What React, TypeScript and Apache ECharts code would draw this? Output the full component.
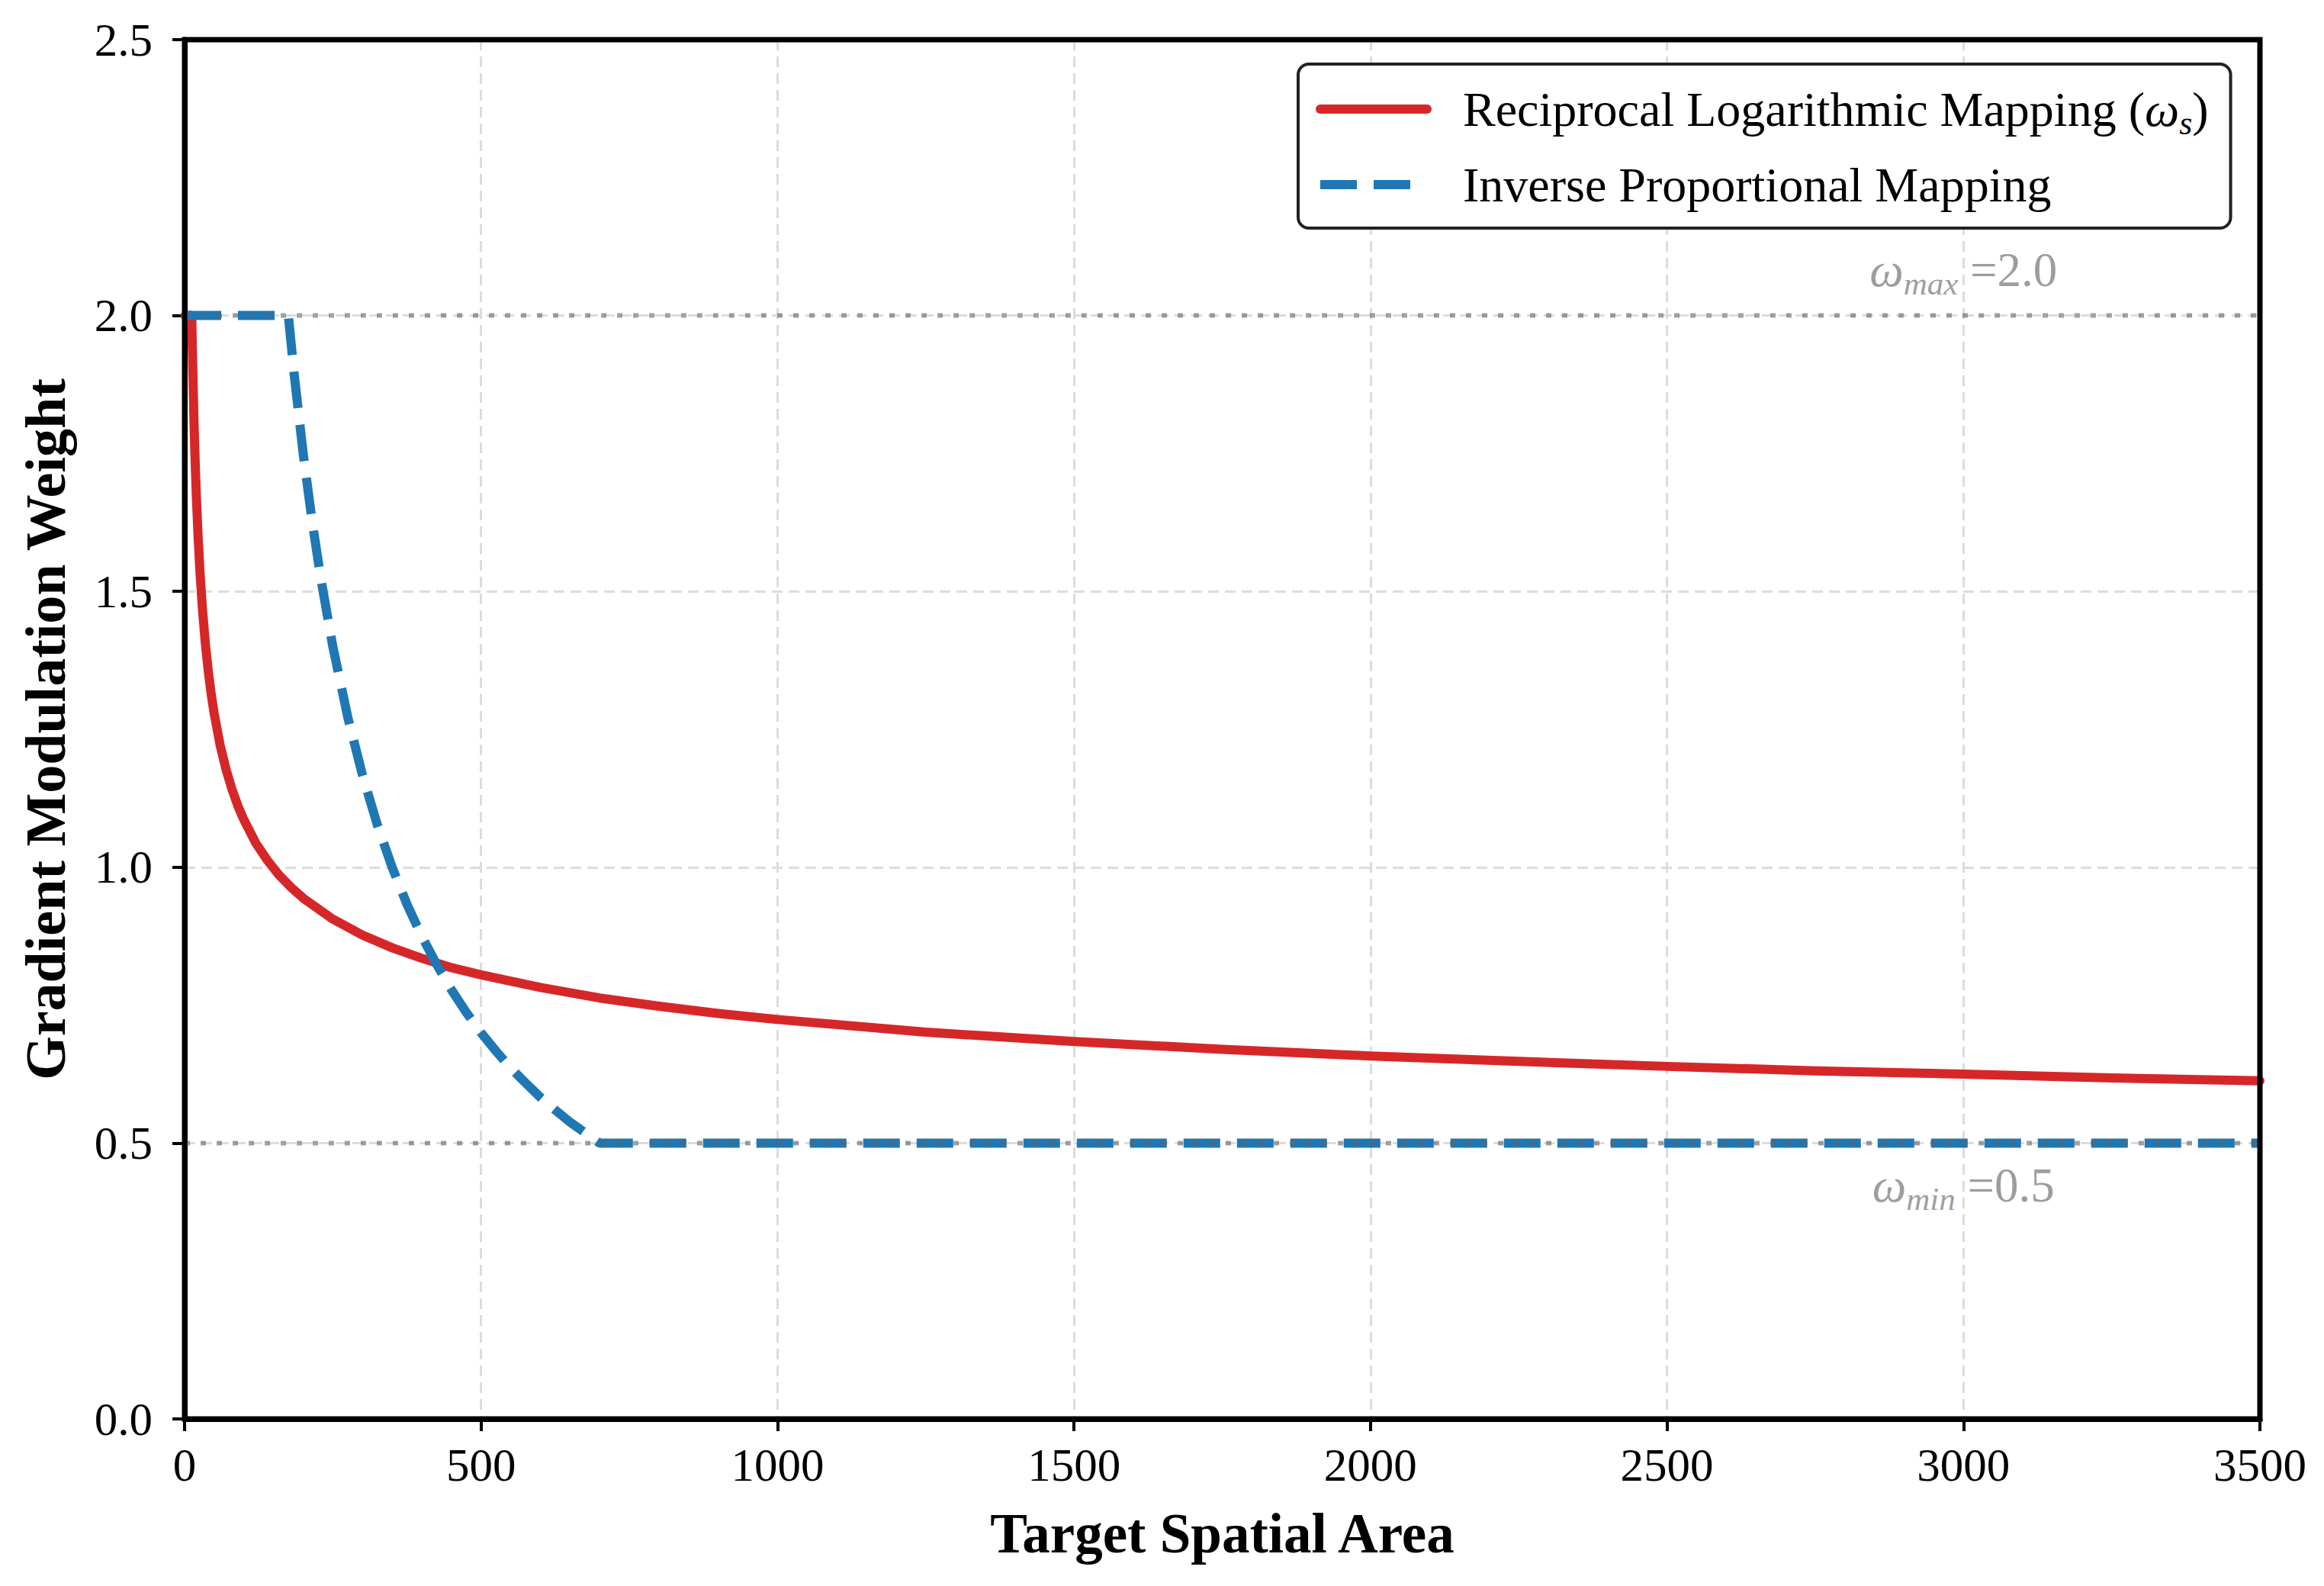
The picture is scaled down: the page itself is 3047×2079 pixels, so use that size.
import React, { useEffect, useRef } from "react";
import * as echarts from "echarts";

// ---------- data ----------
const xTicks = [0, 500, 1000, 1500, 2000, 2500, 3000, 3500];
const yTicks = [0, 0.5, 1.0, 1.5, 2.0, 2.5];

const seriesNames = ["Reciprocal Logarithmic Mapping (ωs)", "Inverse Proportional Mapping"];

// Reciprocal logarithmic mapping (red, solid)
const logX = [1, 12, 14, 16, 18, 20, 23, 26, 30, 35, 40, 45, 50, 60, 70, 80, 90, 100, 120, 140, 160, 180, 200, 250, 300, 350, 400, 450, 500, 600, 700, 800, 900, 1000, 1250, 1500, 1750, 2000, 2250, 2500, 2750, 3000, 3250, 3500];
const logY = [2.0, 2.0, 1.895, 1.803, 1.73, 1.669, 1.595, 1.535, 1.47, 1.406, 1.355, 1.313, 1.278, 1.221, 1.177, 1.141, 1.111, 1.086, 1.044, 1.012, 0.985, 0.963, 0.944, 0.906, 0.877, 0.854, 0.835, 0.818, 0.805, 0.782, 0.763, 0.748, 0.735, 0.724, 0.701, 0.684, 0.67, 0.658, 0.648, 0.639, 0.631, 0.625, 0.618, 0.613];

// Inverse proportional mapping (blue, dashed)
const invX = [0, 175, 185, 200, 215, 230, 250, 275, 300, 325, 350, 375, 400, 425, 450, 475, 500, 525, 550, 575, 600, 625, 650, 675, 700, 3500];
const invY = [2.0, 2.0, 1.892, 1.75, 1.628, 1.522, 1.4, 1.273, 1.167, 1.077, 1.0, 0.933, 0.875, 0.824, 0.778, 0.737, 0.7, 0.667, 0.636, 0.609, 0.583, 0.56, 0.538, 0.519, 0.5, 0.5];

// Reference bounds
const wMax = 2.0;
const wMin = 0.5;
const refLabelX = 3000;

// ---------- styling ----------
const FONT = "'Liberation Serif', 'Times New Roman', serif";
const GRAY = "#858585";

export default function App() {
  const ref = useRef<HTMLDivElement>(null);

  useEffect(() => {
    if (!ref.current) return;
    const chart = echarts.init(ref.current, null, { renderer: "svg" });

    const refRich = {
      w: { fontFamily: FONT, fontSize: 63, fontStyle: "italic", color: GRAY, lineHeight: 78 },
      s: { fontFamily: FONT, fontSize: 43, fontStyle: "italic", color: GRAY, lineHeight: 78, verticalAlign: "bottom" },
      e: { fontFamily: FONT, fontSize: 63, color: GRAY, lineHeight: 78 },
    };

    const option: any = {
      animation: false,
      backgroundColor: "#ffffff",
      grid: {
        left: 242,
        right: 84,
        top: 52,
        bottom: 219,
        show: true,
        borderColor: "#000",
        borderWidth: 7,
        backgroundColor: "transparent",
        z: 10,
      },
      legend: {
        data: seriesNames,
        orient: "vertical",
        left: 1702,
        top: 84,
        padding: [27, 29, 25, 23],
        itemWidth: 140,
        itemHeight: 70,
        itemGap: 27,
        backgroundColor: "#fff",
        borderColor: "#222",
        borderWidth: 4,
        borderRadius: 14,
        selectedMode: false,
        lineStyle: { width: 12 },
        itemStyle: { opacity: 0, borderWidth: 0, color: "rgba(0,0,0,0)" },
        formatter: (name: string) =>
          name === seriesNames[0]
            ? "{t|Reciprocal Logarithmic Mapping (}{w|ω}{s|s}{t|)}"
            : "{t|Inverse Proportional Mapping}",
        textStyle: {
          fontFamily: FONT,
          fontSize: 64,
          color: "#000",
          padding: [0, 0, 0, 42],
          rich: {
            t: { fontFamily: FONT, fontSize: 64, color: "#000", lineHeight: 80 },
            w: { fontFamily: FONT, fontSize: 64, fontStyle: "italic", color: "#000", lineHeight: 80 },
            s: { fontFamily: FONT, fontSize: 44, fontStyle: "italic", color: "#000", lineHeight: 80, verticalAlign: "bottom" },
          },
        },
      },
      xAxis: {
        type: "value",
        min: xTicks[0],
        max: xTicks[xTicks.length - 1],
        interval: xTicks[1] - xTicks[0],
        name: "Target Spatial Area",
        nameLocation: "middle",
        nameGap: 114,
        nameTextStyle: { fontFamily: FONT, fontSize: 73, fontWeight: "bold", color: "#000" },
        axisLine: { show: true, onZero: false, lineStyle: { color: "#000", width: 7 } },
        axisTick: { show: true, length: 16, lineStyle: { color: "#000", width: 4 } },
        axisLabel: {
          margin: 30,
          fontFamily: FONT,
          fontSize: 61,
          color: "#000",
          formatter: (v: number) => String(v),
        },
        splitLine: { show: true, lineStyle: { color: "#dcdcdc", width: 3, type: [14, 8] } },
      },
      yAxis: {
        type: "value",
        min: yTicks[0],
        max: yTicks[yTicks.length - 1],
        interval: yTicks[1] - yTicks[0],
        name: "Gradient Modulation Weight",
        nameLocation: "middle",
        nameGap: 145,
        nameTextStyle: { fontFamily: FONT, fontSize: 74, fontWeight: "bold", color: "#000" },
        axisLine: { show: true, onZero: false, lineStyle: { color: "#000", width: 7 } },
        axisTick: { show: true, length: 16, lineStyle: { color: "#000", width: 4 } },
        axisLabel: {
          margin: 42,
          fontFamily: FONT,
          fontSize: 61,
          color: "#000",
          formatter: (v: number) => v.toFixed(1),
        },
        splitLine: { show: true, lineStyle: { color: "#dcdcdc", width: 3, type: [14, 8] } },
      },
      series: [
        {
          name: seriesNames[0],
          type: "line",
          data: logX.map((x, i) => [x, logY[i]]),
          symbol: "none",
          smooth: false,
          lineStyle: { color: "#d62728", width: 12, cap: "round", join: "round" },
          itemStyle: { color: "#d62728" },
          z: 3,
        },
        {
          name: seriesNames[1],
          type: "line",
          data: invX.map((x, i) => [x, invY[i]]),
          symbol: "none",
          smooth: false,
          lineStyle: { color: "#1f77b4", width: 12, type: [48, 22], cap: "butt", join: "round" },
          itemStyle: { color: "#1f77b4" },
          z: 4,
        },
        {
          name: "refMax",
          type: "line",
          data: [[xTicks[0], wMax], [xTicks[xTicks.length - 1], wMax]],
          symbol: "none",
          silent: true,
          lineStyle: { color: "rgba(100,100,100,0.6)", width: 6, type: [7, 14] },
          z: 5,
        },
        {
          name: "refMin",
          type: "line",
          data: [[xTicks[0], wMin], [xTicks[xTicks.length - 1], wMin]],
          symbol: "none",
          silent: true,
          lineStyle: { color: "rgba(100,100,100,0.6)", width: 6, type: [7, 14] },
          z: 5,
        },
        {
          name: "refLabels",
          type: "scatter",
          silent: true,
          symbolSize: 1,
          itemStyle: { color: "rgba(0,0,0,0)" },
          z: 6,
          data: [
            {
              value: [refLabelX, wMax],
              label: {
                show: true,
                position: "top",
                distance: 20,
                formatter: "{w|ω}{s|max}{e| =2.0}",
                rich: refRich,
              },
            },
            {
              value: [refLabelX, wMin],
              label: {
                show: true,
                position: "bottom",
                distance: 16,
                formatter: "{w|ω}{s|min}{e| =0.5}",
                rich: refRich,
              },
            },
          ],
        },
      ],
    };

    chart.setOption(option);
    return () => chart.dispose();
  }, []);

  return (
    <div
      ref={ref}
      style={{ position: "absolute", left: 0, top: 0, width: 3047, height: 2079, background: "#fff" }}
    />
  );
}
